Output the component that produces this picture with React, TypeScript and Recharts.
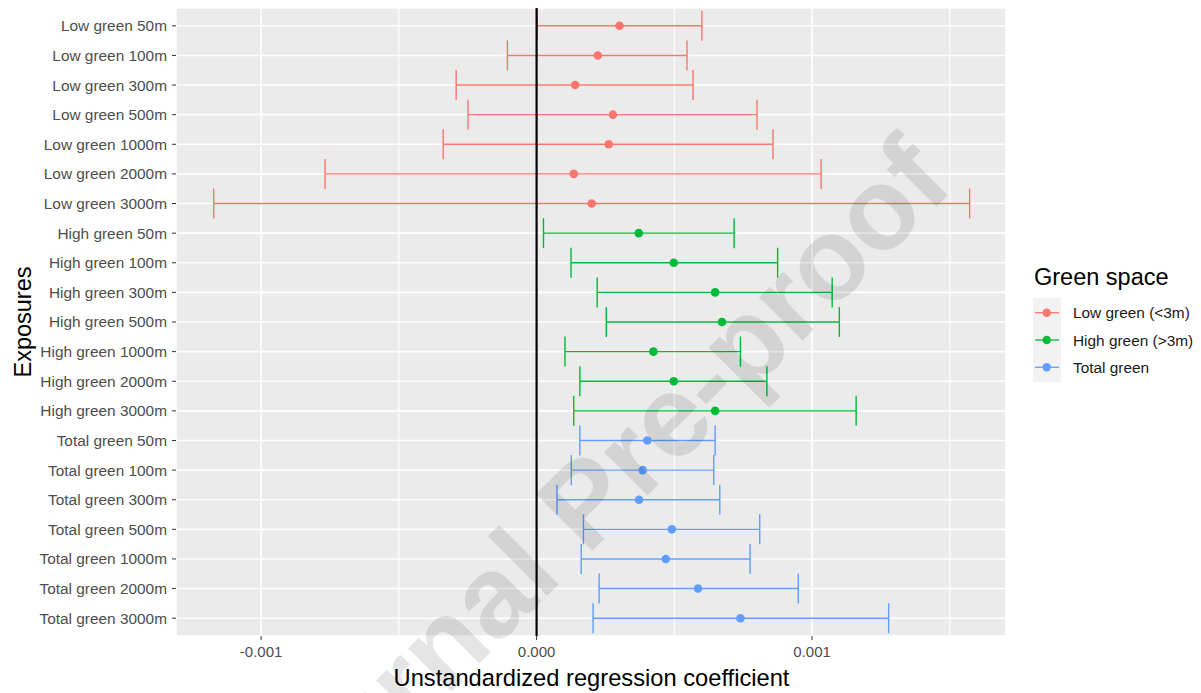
import React from 'react';
import { ScatterChart, Scatter, XAxis, YAxis, CartesianGrid, ReferenceLine, ErrorBar } from 'recharts';

// groups (legend order) and their ggplot hue colours
const groups = ['Low green (<3m)', 'High green (>3m)', 'Total green'];
const groupPrefix = ['Low green', 'High green', 'Total green'];
const groupColors = ['#F8766D', '#00BA38', '#619CFF'];
const buffers = ['50m', '100m', '300m', '500m', '1000m', '2000m', '3000m'];

// estimates and 95% CI
const lowEst = [0.000301, 0.000222, 0.00014, 0.000277, 0.000262, 0.000135, 0.0002];
const lowLower = [0.000002, -0.000106, -0.000292, -0.000249, -0.000339, -0.000768, -0.001172];
const lowUpper = [0.0006, 0.000546, 0.000568, 0.0008, 0.000858, 0.001033, 0.001572];

const highEst = [0.000371, 0.000498, 0.000648, 0.000673, 0.000424, 0.000498, 0.000648];
const highLower = [0.000025, 0.000125, 0.00022, 0.000253, 0.000103, 0.000157, 0.000135];
const highUpper = [0.000717, 0.000875, 0.001073, 0.001099, 0.00074, 0.000836, 0.00116];

const totalEst = [0.000402, 0.000385, 0.000372, 0.000491, 0.000469, 0.000586, 0.00074];
const totalLower = [0.000157, 0.000126, 0.000074, 0.00017, 0.000162, 0.000227, 0.000205];
const totalUpper = [0.000648, 0.000643, 0.000665, 0.00081, 0.000775, 0.00095, 0.001278];

const xTicks = [-0.001, 0, 0.001];
const minorTicks = [-0.0005, 0.0005, 0.0015];
const xDomain = [-0.001309, 0.001704];

function buildRows(prefix: string, est: number[], lower: number[], upper: number[]) {
  return buffers.map((b, i) => ({
    label: `${prefix} ${b}`,
    value: est[i],
    err: [est[i] - lower[i], upper[i] - est[i]],
  }));
}

const series = [
  buildRows(groupPrefix[0], lowEst, lowLower, lowUpper),
  buildRows(groupPrefix[1], highEst, highLower, highUpper),
  buildRows(groupPrefix[2], totalEst, totalLower, totalUpper),
];

const FONT = '"Liberation Sans", Arial, sans-serif';

function GreenLegend() {
  return (
    <svg width={170} height={130} style={{ position: 'absolute', left: 1030, top: 260 }}>
      <text x={4} y={24.5} fontSize={23.5} fill="#000" fontFamily={FONT}>Green space</text>
      <rect x={3} y={38} width={28} height={84} fill="#F2F2F2" />
      {groups.map((g, i) => {
        const cy = 52.7 + i * 27.3;
        return (
          <g key={g}>
            <line x1={5} x2={29} y1={cy} y2={cy} stroke={groupColors[i]} strokeWidth={1.3} />
            <circle cx={16.7} cy={cy} r={4.2} fill={groupColors[i]} />
            <text x={43} y={cy + 5.5} fontSize={15.4} fill="#1A1A1A" fontFamily={FONT}>{g}</text>
          </g>
        );
      })}
    </svg>
  );
}

export default function App() {
  return (
    <div style={{ position: 'absolute', left: 0, top: 0, width: 1201, height: 693, overflow: 'hidden', background: '#fff', fontFamily: FONT }}>
      <ScatterChart width={1201} height={693} margin={{ top: 8, right: 195, bottom: 0, left: 0 }}>
        <CartesianGrid fill="#EBEBEB" stroke="#FFFFFF" strokeWidth={1.6} />
        {minorTicks.map((t) => (
          <ReferenceLine key={t} x={t} stroke="#FFFFFF" strokeWidth={1.2} />
        ))}
        <XAxis
          type="number"
          dataKey="value"
          domain={xDomain}
          ticks={xTicks}
          allowDataOverflow
          tickFormatter={(v: number) => v.toFixed(3)}
          height={57}
          axisLine={false}
          tickLine={{ stroke: '#333333' }}
          tickSize={4}
          tickMargin={6}
          tick={{ fill: '#4D4D4D', fontSize: 15 }}
        />
        <YAxis
          type="category"
          dataKey="label"
          allowDuplicatedCategory={false}
          reversed
          interval={0}
          width={176}
          padding={{ top: 3, bottom: 3 }}
          axisLine={false}
          tickLine={{ stroke: '#333333' }}
          tickSize={4}
          tickMargin={5}
          tick={{ fill: '#4D4D4D', fontSize: 15.4 }}
          label={{ value: 'Exposures', angle: -90, position: 'insideLeft', offset: 23, fill: '#000', fontSize: 23.5, style: { textAnchor: 'middle' } }}
        />
        {series.map((rows, i) => (
          <Scatter
            key={groups[i]}
            name={groups[i]}
            data={rows}
            isAnimationActive={false}
            shape={(p: any) => <circle cx={p.cx} cy={p.cy} r={4.3} fill={groupColors[i]} />}
          >
            <ErrorBar dataKey="err" direction="x" width={15} stroke={groupColors[i]} strokeWidth={1.4} />
          </Scatter>
        ))}
        <ReferenceLine x={0} stroke="#000000" strokeWidth={2.2} />
      </ScatterChart>
      <GreenLegend />
      <svg width={1201} height={693} style={{ position: 'absolute', left: 0, top: 0, pointerEvents: 'none' }}>
        <text x={591.5} y={686} textAnchor="middle" fontSize={23.7} fill="#000" fontFamily={FONT}>
          Unstandardized regression coefficient
        </text>
        <text
          x={268}
          y={875}
          transform="rotate(-45 268 875)"
          fontSize={116}
          fontWeight="bold"
          fontFamily={FONT}
          fill="rgba(0,0,0,0.1)"
        >
          Journal Pre-proof
        </text>
      </svg>
    </div>
  );
}
